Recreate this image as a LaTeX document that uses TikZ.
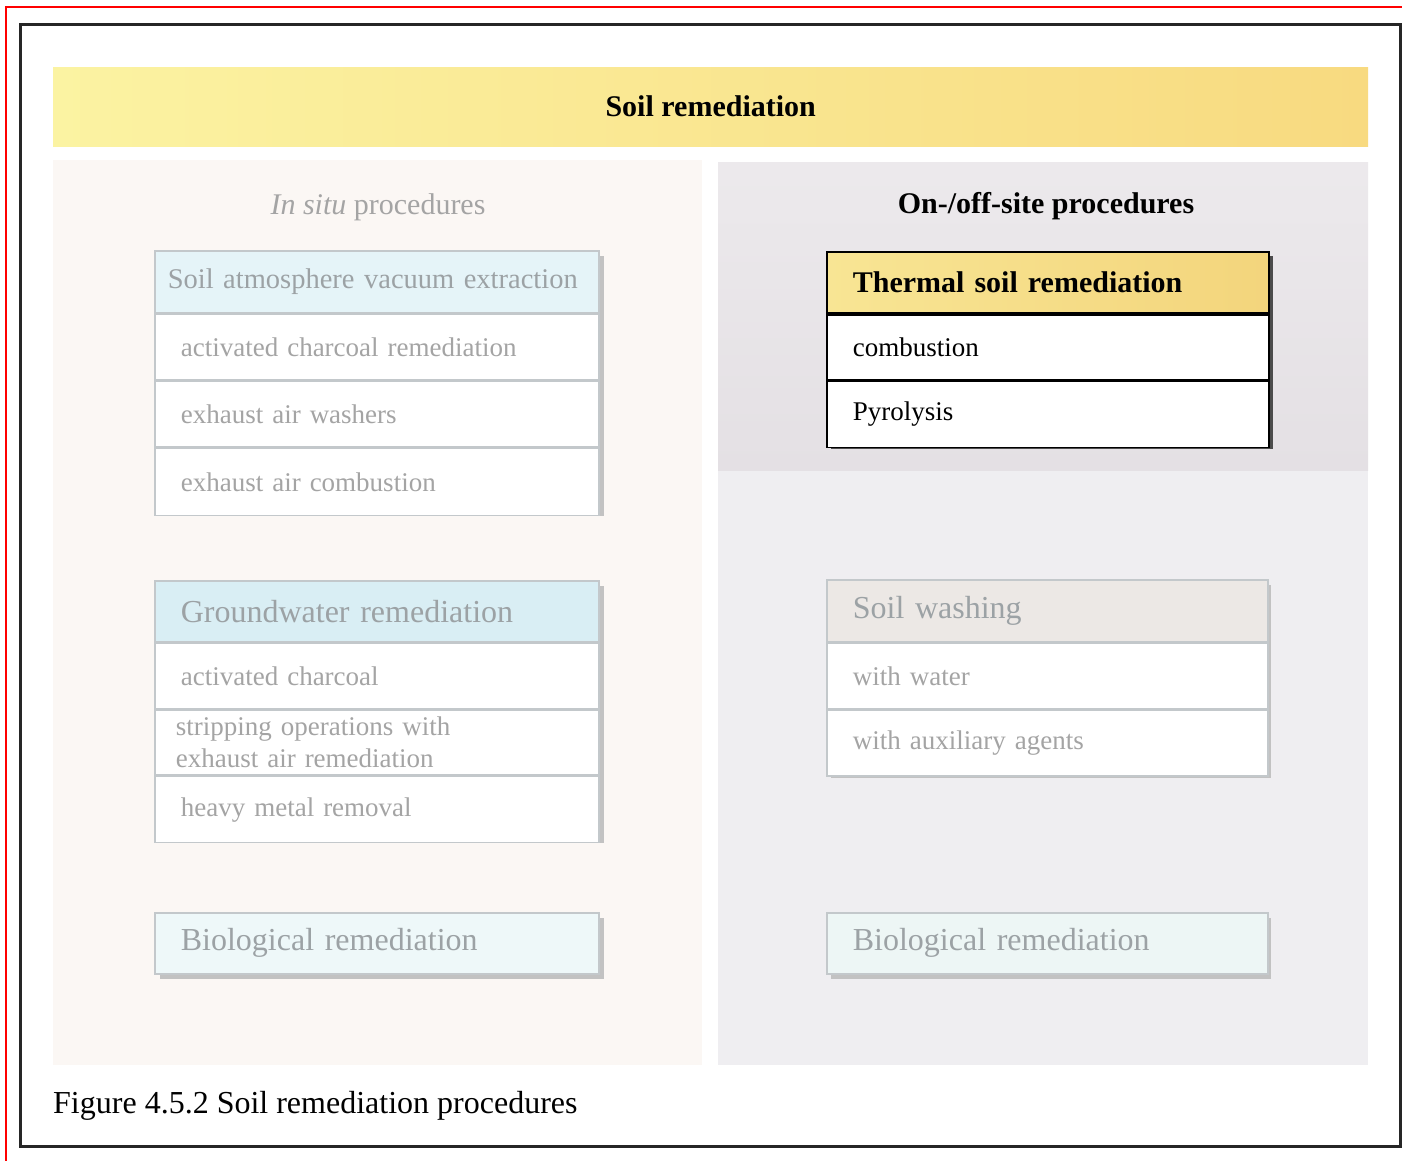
\documentclass[tikz,border=0pt]{standalone}
\usepackage{fontspec}
\setmainfont{Liberation Serif}
\definecolor{boxline}{HTML}{C3C8CB}
\definecolor{rowgray}{HTML}{A4A4A4}
\definecolor{headgray}{HTML}{9CA2A5}
\definecolor{panelL}{HTML}{FBF7F4}
\definecolor{panelRtop}{HTML}{E4E0E4}
\definecolor{panelRbot}{HTML}{EFEEF1}
\definecolor{bannerL}{HTML}{FBF3A2}
\definecolor{bannerR}{HTML}{F8DA80}
\definecolor{blueA}{HTML}{E5F4F8}
\definecolor{blueB}{HTML}{D9EEF4}
\definecolor{bioL}{HTML}{EEF8F9}
\definecolor{bioR}{HTML}{EDF6F5}
\definecolor{washH}{HTML}{ECE8E5}
\definecolor{thermL}{HTML}{F8E594}
\definecolor{thermR}{HTML}{F3D57C}
\definecolor{shadowgray}{HTML}{C2C2C2}
\newcommand\fRow{\fontsize{27}{33}\selectfont}
\newcommand\fHead{\fontsize{32}{36}\selectfont}
\newcommand\fBig{\fontsize{30}{36}\selectfont\bfseries}
\begin{document}
\begin{tikzpicture}[x=1pt,y=-1pt,
  cellL/.style={draw=boxline, line width=1.6pt, fill=white, anchor=north west,
    minimum height=65pt, text width=392pt, inner xsep=26pt, inner ysep=0pt,
    align=left, text=rowgray, font=\fRow},
  headL/.style={cellL, text=headgray, font=\fHead},
  cellR/.style={cellL, text width=389pt},
  headR/.style={headL, text width=389pt},
  cellT/.style={draw=black, line width=1.8pt, fill=white, anchor=north west,
    minimum height=65pt, text width=390pt, inner xsep=26pt, inner ysep=0pt,
    align=left, text=black, font=\fRow},
  paneltitle/.style={font=\fBig, inner sep=0pt}
]
\useasboundingbox (0,0) rectangle (1402,1161);
\fill[white] (0,0) rectangle (1402,1161);
% frames
\draw[red, line width=2pt] (6,1170) -- (6,7) -- (1410,7);
\draw[black!85, line width=3pt] (20,25) rectangle (1400,1146);

% banner
\node[anchor=north west, minimum width=1315pt, minimum height=79pt, inner sep=0pt,
  left color=bannerL, right color=bannerR, draw=none, font=\fBig] (banner) at (53,67) {Soil remediation};

% panels
\fill[panelL] (53,160) rectangle (702,1065);
\fill[panelRbot] (718,163) rectangle (1368,1065);
\shade[top color=panelRtop!70!white, bottom color=panelRtop] (718,163) rectangle (1368,470);

\node[paneltitle, text=rowgray, font=\fontsize{30}{36}\selectfont] (insitu) at (378,207) {\textit{In situ} procedures};
\node[paneltitle] (onoff) at (1046,206) {On-/off-site procedures};

% Soil atmosphere vacuum extraction
\fill[shadowgray] (160,256) rectangle (604,516);
\node[headL, fill=blueA, inner xsep=13pt, text width=418pt, minimum height=62pt, font=\fontsize{28.5}{36}\selectfont] (sa) at (154,250) {\mbox{Soil atmosphere vacuum extraction}};
\node[cellL] (sa1) at (sa.south west) {activated charcoal remediation};
\node[cellL, minimum height=66pt] (sa2) at (sa1.south west) {exhaust air washers};
\node[cellL, minimum height=67pt] (sa3) at (sa2.south west) {exhaust air combustion};

% Groundwater remediation
\fill[shadowgray] (160,586) rectangle (604,843);
\node[headL, fill=blueB, minimum height=61pt] (gw) at (154,580) {Groundwater remediation};
\node[cellL] (gw1) at (gw.south west) {activated charcoal};
\node[cellL, inner xsep=21pt, text width=402pt, font=\fontsize{27}{32}\selectfont] (gw2) at (gw1.south west) {stripping operations with\\exhaust air remediation};
\node[cellL, minimum height=66pt] (gw3) at (gw2.south west) {heavy metal removal};

% Biological remediation left
\fill[shadowgray] (160,918) rectangle (604,979);
\node[headL, fill=bioL, minimum height=61pt] (bioL) at (154,912) {Biological remediation};

% Thermal soil remediation
\fill[black!70] (831,256) rectangle (1273,449);
\node[cellT, font=\fBig, minimum height=61pt, left color=thermL, right color=thermR] (th) at (826,251) {Thermal soil remediation};
\node[cellT] (th1) at (th.south west) {combustion};
\node[cellT, minimum height=66pt] (th2) at (th1.south west) {Pyrolysis};

% Soil washing
\fill[shadowgray] (831,585) rectangle (1271,778);
\node[headR, fill=washH, minimum height=62pt] (sw) at (826,579) {Soil washing};
\node[cellR] (sw1) at (sw.south west) {with water};
\node[cellR, minimum height=66pt] (sw2) at (sw1.south west) {with auxiliary agents};

% Biological remediation right
\fill[shadowgray] (831,918) rectangle (1271,979);
\node[headR, fill=bioR, minimum height=61pt] (bioR) at (826,912) {Biological remediation};

% caption
\node[anchor=west, inner sep=0pt, font=\fontsize{32}{36}\selectfont] (caption) at (53,1106) {Figure 4.5.2 Soil remediation procedures};
\end{tikzpicture}
\end{document}
